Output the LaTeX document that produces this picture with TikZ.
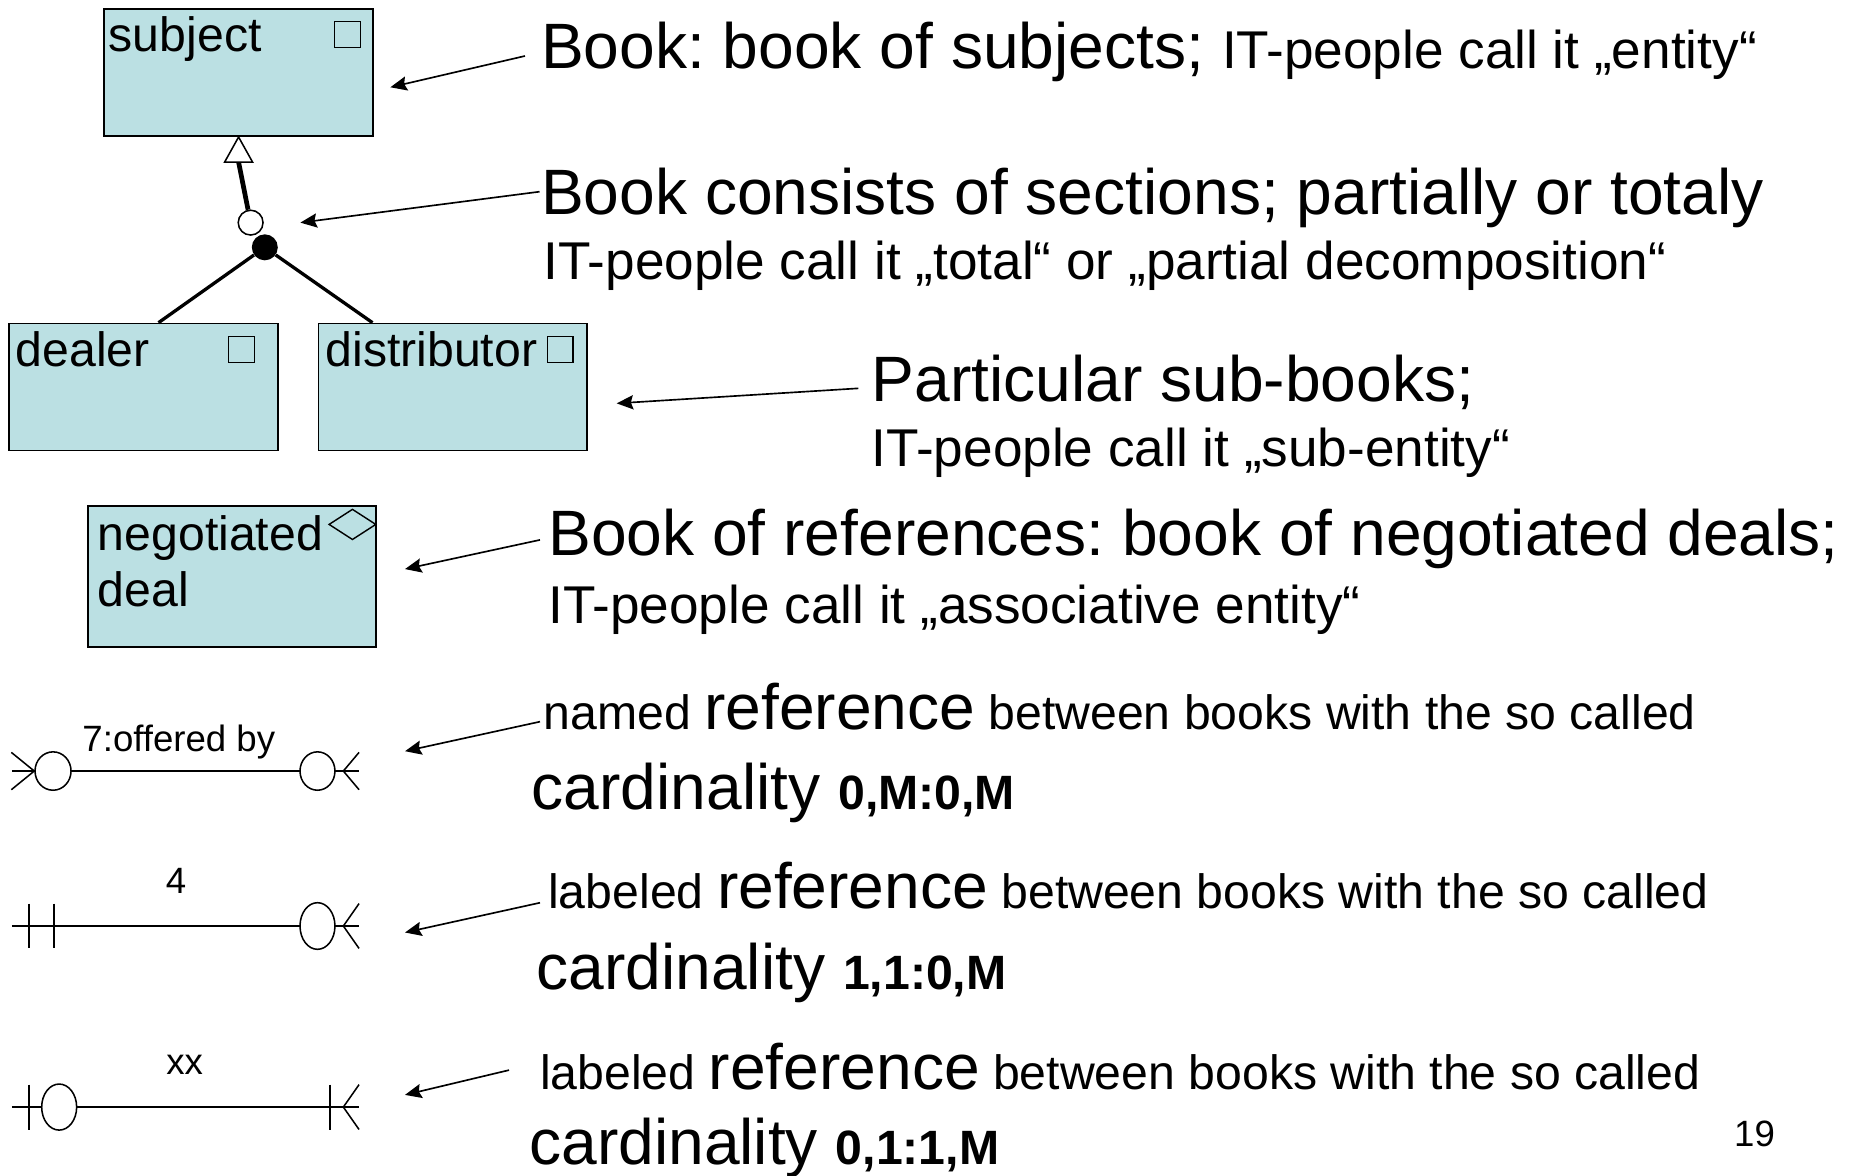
\documentclass[tikz,border=0pt]{standalone}
\usepackage{fontspec}
\setmainfont{Liberation Sans}
\usetikzlibrary{arrows.meta,positioning,calc,shapes.geometric}

\definecolor{bookfill}{RGB}{187,224,227}
\newcommand\fsBig{\fontsize{54.3}{60}\selectfont}
\newcommand\fsMid{\fontsize{45}{52}\selectfont}
\newcommand\fsSm{\fontsize{40.8}{46}\selectfont}
\newcommand\fsTag{\fontsize{31}{36}\selectfont}
\frenchspacing

\begin{document}
\begin{tikzpicture}[
    x=1pt, y=-1pt,
    book/.style={draw, line width=1.5pt, fill=bookfill, anchor=north west, inner sep=0pt, minimum width=227.5pt, minimum height=107.5pt},
    bookname/.style={anchor=base west, inner sep=0pt, font=\fsSm, align=left},
    keysq/.style={draw, line width=1.2pt, inner sep=0pt, minimum size=22pt},
    rhomb/.style={draw, diamond, line width=1.2pt, inner sep=0pt, minimum width=40pt, minimum height=26pt},
    txt/.style={anchor=base west, inner sep=0pt},
    pointer/.style={-{Stealth[length=14pt, width=12pt, inset=2pt]}, line width=1.4pt},
    rel/.style={line width=1.3pt},
    ring/.style={draw, ellipse, fill=white, line width=1.3pt, inner sep=0pt},
    tag/.style={anchor=base, inner sep=0pt, font=\fsTag}
  ]
  \fill[white] (0,0) rectangle (1568,995);
  \useasboundingbox (0,0) rectangle (1568,995);

  % books
  \node[book] (subject) at (87.5,7) {};
  \node[book] (dealer) at (7.1,273.2) {};
  \node[book] (distributor) at (268.9,273.2) {};
  \node[book, minimum width=243.8pt, minimum height=119.4pt] (deal) at (73.7,427.6) {};

  \node[bookname] (subjectname) at ([shift={(4.5,37)}]subject.north west) {subject};
  \node[bookname] (dealername) at ([shift={(6,37)}]dealer.north west) {dealer};
  \node[bookname] (distributorname) at ([shift={(6.5,37)}]distributor.north west) {distributor};
  \node[bookname] (dealname) at ([shift={(9,86)}]deal.north west) {negotiated\\[1.6pt]deal};

  \node[keysq, below left=10.5pt and 10.5pt of subject.north east] (subjectsq) {};
  \node[keysq, below left=11.3pt and 20pt of dealer.north east] (dealersq) {};
  \node[keysq, below left=11.3pt and 12pt of distributor.north east] (distributorsq) {};
  \node[rhomb, anchor=east] (dealsq) at ([yshift=-16.4pt]deal.north east) {};

  % decomposition
  \coordinate (trib) at ([yshift=-21.2pt]subject.south);
  \node[draw, circle, fill=white, line width=1.3pt, minimum size=21pt, inner sep=0pt] (gen) at (212.2,188.5) {};
  \node[circle, fill=black, minimum size=22pt, inner sep=0pt] (genfull) at (224.2,209.4) {};
  \draw[line width=4pt] (gen) -- (trib);
  \draw[fill=white, line width=1.3pt] (subject.south) -- ([xshift=-11.8pt]trib) -- ([xshift=11.8pt]trib) -- cycle;
  \draw[line width=2.8pt] (genfull) -- ($(dealer.north west)!0.555!(dealer.north east)$);
  \draw[line width=2.8pt] (genfull) -- ($(distributor.north west)!0.203!(distributor.north east)$);

  % references
  \coordinate (r1w) at (10,652.8);
  \coordinate (r1e) at (304,652.8);
  \draw[rel] (r1w) -- (r1e);
  \node[ring, minimum width=30.5pt, minimum height=32.5pt] (r1wo) at (44.9,652.8) {};
  \node[ring, minimum width=29.6pt, minimum height=32.5pt] (r1eo) at (268.8,652.8) {};
  \draw[rel] (r1wo.west) -- ++(-19.4,-15.8) (r1wo.west) -- ++(-19.4,15.8);
  \draw[rel] ($(r1e)+(-13.3,0)$) -- ++(13.3,-15.8) ($(r1e)+(-13.3,0)$) -- ++(13.3,15.8);
  \node[tag] (r1name) at (151.4,636) {7:offered by};

  \coordinate (r2w) at (10,784);
  \coordinate (r2e) at (304,784);
  \draw[rel] (r2w) -- (r2e);
  \draw[rel] ($(r2w)+(14.6,-19)$) -- ++(0,38) ($(r2w)+(35.7,-19)$) -- ++(0,38);
  \node[ring, minimum width=29.6pt, minimum height=39.5pt] (r2eo) at (268.8,784) {};
  \draw[rel] ($(r2e)+(-13.3,0)$) -- ++(13.3,-19) ($(r2e)+(-13.3,0)$) -- ++(13.3,19);
  \node[tag] (r2name) at (149,756.4) {4};

  \coordinate (r3w) at (10,937.3);
  \coordinate (r3e) at (304,937.3);
  \draw[rel] (r3w) -- (r3e);
  \draw[rel] ($(r3w)+(14.6,-19)$) -- ++(0,38);
  \node[ring, minimum width=29.6pt, minimum height=39pt] (r3wo) at (50.1,937.3) {};
  \draw[rel] ($(r3e)+(-24.6,-19)$) -- ++(0,38);
  \draw[rel] ($(r3e)+(-13.3,0)$) -- ++(13.3,-19) ($(r3e)+(-13.3,0)$) -- ++(13.3,19);
  \node[tag] (r3name) at (156.3,910) {xx};

  % explanations
  \node[txt, font=\fsBig] (tBook) at (458,58) {Book: book of subjects; \fsMid IT-people call it „entity“};
  \node[txt, font=\fsBig] (tParts) at (458,182) {Book consists of sections; partially or totaly};
  \node[txt, font=\fsMid] (tPartsIT) at (460,237) {IT-people call it „total“ or „partial decomposition“};
  \node[txt, font=\fsBig] (tSub) at (738,340) {Particular sub-books;};
  \node[txt, font=\fsMid] (tSubIT) at (738,395) {IT-people call it „sub-entity“};
  \node[txt, font=\fsBig] (tDeal) at (464,470) {Book of references: book of negotiated deals;};
  \node[txt, font=\fsMid] (tDealIT) at (464,528) {IT-people call it „associative entity“};
  \node[txt, font=\fsSm] (tRef1) at (460,618) {named {\fsBig reference} between books with the so called};
  \node[txt, font=\fsBig] (tCard1) at (450,685) {cardinality {\fsSm\bfseries 0,M:0,M}};
  \node[txt, font=\fsSm] (tRef2) at (464,769) {labeled {\fsBig reference} between books with the so called};
  \node[txt, font=\fsBig] (tCard2) at (454,838) {cardinality {\fsSm\bfseries 1,1:0,M}};
  \node[txt, font=\fsSm] (tRef3) at (457,922) {labeled {\fsBig reference} between books with the so called};
  \node[txt, font=\fsBig] (tCard3) at (448,986) {cardinality {\fsSm\bfseries 0,1:1,M}};
  \node[txt, font=\fsTag] (pageno) at (1468,971) {19};

  % pointers
  \coordinate (bookTail) at (444.5,47.4);   \coordinate (bookHead) at (330.5,73.9);
  \coordinate (partsTail) at (456.8,162.3); \coordinate (partsHead) at (254.3,188.5);
  \coordinate (subTail) at (726.7,328.8);   \coordinate (subHead) at (522.1,341.5);
  \coordinate (dealTail) at (457.2,457.1);  \coordinate (dealHead) at (342.9,481.8);
  \coordinate (ref1Tail) at (457.2,611);    \coordinate (ref1Head) at (342.9,636);
  \coordinate (ref2Tail) at (457.2,764.3);  \coordinate (ref2Head) at (342.9,789.5);
  \coordinate (ref3Tail) at (431,906);      \coordinate (ref3Head) at (342.9,927);
  \draw[pointer] (bookTail) -- (bookHead);
  \draw[pointer] (partsTail) -- (partsHead);
  \draw[pointer] (subTail) -- (subHead);
  \draw[pointer] (dealTail) -- (dealHead);
  \draw[pointer] (ref1Tail) -- (ref1Head);
  \draw[pointer] (ref2Tail) -- (ref2Head);
  \draw[pointer] (ref3Tail) -- (ref3Head);
\end{tikzpicture}
\end{document}
